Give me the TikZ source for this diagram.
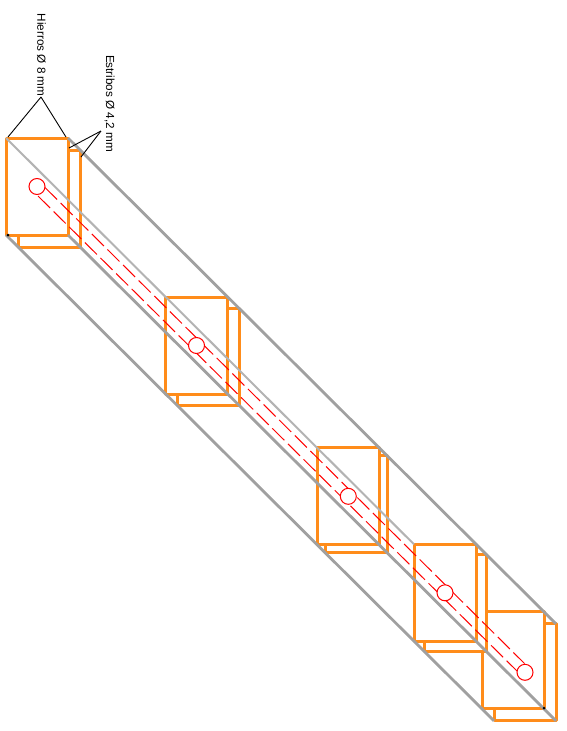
\documentclass[tikz,border=0pt]{standalone}
\usepackage{fontspec}
\setmainfont{Liberation Sans}
\definecolor{stirrup}{HTML}{FF8C1A}
\definecolor{railgrey}{HTML}{A0A0A0}
\tikzset{
  hoop/.style={draw=stirrup, fill=white, line width=3pt, line join=round, minimum width=62pt, minimum height=97pt, inner sep=0pt, outer sep=0pt},
  rail/.style={draw=railgrey, line width=2.8pt},
  thinrail/.style={draw=railgrey!80, line width=2pt},
  bar/.style={draw=red, line width=1pt, dash pattern=on 17pt off 5pt},
  barend/.style={circle, draw=red, fill=white, line width=1pt, minimum size=16pt, inner sep=0pt},
  leader/.style={draw=black, line width=0.9pt},
  caption/.style={rotate=-90, font=\fontsize{11.7}{14}\selectfont, inner sep=0pt},
  speck/.style={circle, fill=black, minimum size=3pt, inner sep=0pt}
}
\begin{document}
\begin{tikzpicture}[x=1pt,y=-1pt]
	    \useasboundingbox (0,0) rectangle (566,731);

	    \node at (525,672.3) (b5) [hoop] {};
	    \node at (513,660.4) (f5) [hoop] {};
	    \node at (455,602.8) (b4) [hoop] {};
	    \node at (445,592.8) (f4) [hoop] {};
	    \node at (356,504) (b3) [hoop] {};
	    \node at (348.3,496.3) (f3) [hoop] {};
	    \node at (208,357) (b2) [hoop] {};
	    \node at (196.5,345.5) (f2) [hoop] {};
	    \node at (49,198.5) (b1) [hoop] {};
	    \node at (37,186.5) (f1) [hoop] {};

	    \coordinate (u1) at (45,187.5);
	    \coordinate (u2) at (524.5,663.5);
	    \coordinate (l1) at (38,196);
	    \coordinate (l2) at (517,671);
	    \path[bar] (u1) edge (u2);
	    \path[bar] (l1) edge (l2);

	    \path[thinrail] (f1.north west) edge (f4.north west);
	    \path[rail] (f1.north east) edge (b5.north east);
	    \path[rail] (f1.south west) edge (b5.south west);
	    \path[rail] (f1.south east) edge (b5.south east);

	    \node at (f1.center) (c1) [barend] {};
	    \node at (f2.center) (c2) [barend] {};
	    \node at (f3.center) (c3) [barend] {};
	    \node at (f4.center) (c4) [barend] {};
	    \node at (b5.center) (c5) [barend] {};

	    \node at (8,235) (s1) [speck] {};
	    \node at (544,708) (s2) [speck] {};

	    \node at (41.5,55) (hierros) [caption] {Hierros Ø 8 mm};
	    \node at (109.5,103.5) (estribos) [caption] {Estribos Ø 4,2 mm};

	    \coordinate (h0) at (41,97);
	    \coordinate (h1) at (8,137);
	    \coordinate (h2) at (66,137);
	    \coordinate (e0) at (101,131);
	    \coordinate (e1) at (69,148);
	    \coordinate (e2) at (81,157);
	    \path[leader] (h0) edge (h1);
	    \path[leader] (h0) edge (h2);
	    \path[leader] (e0) edge (e1);
	    \path[leader] (e0) edge (e2);
\end{tikzpicture}
\end{document}
